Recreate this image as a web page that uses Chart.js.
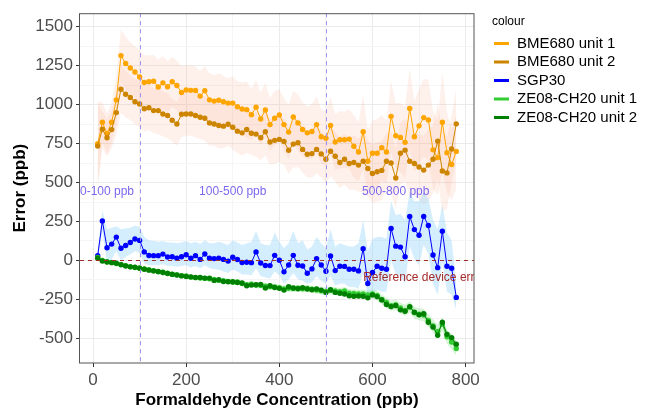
<!DOCTYPE html>
<html>
<head>
<meta charset="utf-8">
<script src="https://cdn.jsdelivr.net/npm/chart.js@4.4.1/dist/chart.umd.min.js"></script>
<style>
  body { margin: 0; background: #fff; }
  #wrap { width: 645px; height: 410px; }
</style>
</head>
<body>
<div id="wrap"><canvas id="myChart" width="645" height="410"></canvas></div>
<script>
// x positions (ppb)
const concentration = [10, 20, 30, 40, 50, 60, 70, 80, 90, 100,
  110, 120, 130, 140, 150, 160, 170, 180, 190, 200,
  210, 220, 230, 240, 250, 260, 270, 280, 290, 300,
  310, 320, 330, 340, 350, 360, 370, 380, 390, 400,
  410, 420, 430, 440, 450, 460, 470, 480, 490, 500,
  510, 520, 530, 540, 550, 560, 570, 580, 590, 600,
  610, 620, 630, 640, 650, 660, 670, 680, 690, 700,
  710, 720, 730, 740, 750, 760, 770, 780];

// error per sensor (ppb)
const bme1 = [749, 887, 815, 887, 1031, 1315, 1264, 1235, 1210, 1178,
  1142, 1147, 1150, 1113, 1140, 1115, 1147, 1123, 1078, 1094,
  1092, 1091, 1055, 1089, 1031, 1023, 1028, 1019, 1010, 1010,
  987, 972, 968, 936, 983, 908, 966, 872, 913, 934,
  872, 824, 921, 883, 841, 819, 828, 872, 794, 785,
  866, 760, 775, 775, 779, 733, 696, 826, 637, 688,
  688, 724, 696, 925, 800, 790, 758, 976, 794, 864,
  917, 902, 710, 660, 887, 692, 616, 700];
const bme2 = [734, 842, 788, 840, 949, 1099, 1067, 1046, 1019, 1005,
  974, 980, 962, 962, 940, 930, 900, 876, 938, 940,
  940, 930, 919, 913, 883, 876, 866, 862, 874, 855,
  830, 819, 841, 817, 811, 788, 826, 760, 771, 777,
  764, 707, 747, 756, 713, 682, 686, 713, 684, 650,
  701, 669, 629, 650, 622, 629, 612, 637, 590, 558,
  569, 578, 637, 626, 529, 688, 708, 637, 622, 600,
  580, 612, 650, 766, 574, 562, 715, 877];
const sgp30 = [30, 254, 82, 105, 150, 78, 96, 115, 138, 129,
  55, 32, 31, 31, 41, 22, 24, 14, 24, 37,
  14, 31, 7, 42, 14, 12, 15, 7, -4, 21,
  6, -13, -11, -14, 55, -16, -32, -33, 33, 1,
  -73, -29, 33, -31, -35, -82, -54, 12, -29, -69,
  29, -65, -37, -38, -56, -56, -67, 75, -148, -77,
  -37, -50, -56, 205, 92, 86, 24, 283, 198, 162,
  283, 224, 35, -46, 188, -37, -50, -237];
const ze1 = [20, 0, -8, -12, -20, -25, -33, -40, -45, -48,
  -55, -60, -65, -72, -75, -82, -90, -92, -97, -100,
  -107, -110, -112, -115, -118, -122, -128, -130, -134, -140,
  -138, -148, -155, -152, -158, -160, -165, -168, -170, -175,
  -182, -178, -180, -178, -182, -180, -185, -190, -195, -198,
  -192, -196, -200, -196, -210, -212, -215, -215, -222, -215,
  -225, -250, -270, -290, -285, -305, -320, -300, -335, -345,
  -350, -385, -420, -455, -410, -490, -523, -565];
const ze2 = [14, -3, -10, -14, -18, -27, -35, -41, -43, -50,
  -56, -62, -67, -71, -77, -84, -88, -94, -99, -103,
  -105, -109, -109, -113, -113, -128, -124, -135, -137, -137,
  -141, -145, -162, -158, -156, -154, -177, -162, -173, -179,
  -190, -169, -177, -181, -175, -183, -188, -183, -190, -205,
  -188, -205, -210, -215, -226, -230, -228, -230, -240, -221,
  -232, -253, -283, -296, -289, -317, -326, -296, -332, -349,
  -342, -396, -427, -480, -396, -474, -495, -537];

// ribbon half widths / bounds
const bme1Err = [270, 130, 130, 130, 160, 170, 170, 165, 165, 175,
  175, 170, 170, 175, 170, 165, 160, 160, 170, 160,
  160, 155, 160, 160, 170, 165, 175, 165, 160, 170,
  165, 170, 180, 165, 175, 170, 175, 170, 175, 165,
  170, 175, 170, 180, 175, 170, 175, 180, 175, 175,
  185, 180, 185, 180, 190, 200, 190, 240, 200, 210,
  220, 210, 200, 230, 210, 220, 230, 260, 230, 240,
  250, 260, 250, 240, 320, 260, 230, 240];
const bme2Err = [270, 120, 120, 120, 140, 150, 150, 145, 145, 150,
  150, 145, 145, 150, 145, 145, 140, 140, 145, 140,
  140, 140, 140, 145, 145, 140, 145, 140, 140, 145,
  140, 145, 150, 140, 145, 145, 150, 145, 150, 145,
  150, 150, 150, 155, 150, 150, 155, 155, 150, 155,
  160, 160, 165, 160, 170, 175, 170, 200, 180, 190,
  190, 190, 180, 200, 190, 200, 200, 220, 200, 210,
  220, 230, 220, 240, 260, 230, 220, 230];
const sgpHigh = [60, 320, 200, 210, 220, 200, 205, 210, 225, 215,
  150, 130, 125, 120, 125, 115, 115, 110, 115, 125,
  110, 120, 105, 130, 110, 110, 120, 110, 100, 130,
  115, 100, 110, 120, 190, 110, 100, 100, 180, 120,
  80, 110, 190, 110, 130, 70, 90, 150, 110, 80,
  200, 90, 110, 100, 90, 90, 110, 260, 60, 140,
  150, 150, 140, 380, 290, 300, 260, 440, 380, 380,
  440, 400, 260, 200, 360, 180, 130, -150];
const sgpLow = [0, 180, -10, 10, 60, 0, 20, 40, 60, 50,
  -20, -30, -30, -30, -25, -35, -35, -40, -35, -30,
  -45, -35, -50, -30, -50, -55, -60, -70, -80, -60,
  -70, -90, -90, -95, -50, -100, -110, -115, -70, -95,
  -150, -120, -80, -120, -130, -150, -140, -100, -130, -150,
  -100, -160, -150, -150, -170, -170, -180, -80, -230, -200,
  -190, -200, -200, 0, -90, -100, -150, 90, 10, -30,
  100, 40, -150, -220, -10, -200, -220, -320];
const ze1Err = [10, 10, 10, 10, 10, 12, 12, 12, 12, 12,
  12, 12, 12, 12, 14, 14, 14, 14, 14, 15,
  15, 15, 15, 15, 16, 16, 16, 17, 17, 18,
  18, 18, 18, 20, 20, 20, 20, 20, 20, 20,
  22, 22, 22, 22, 22, 22, 22, 24, 24, 24,
  24, 24, 24, 26, 26, 26, 28, 28, 28, 28,
  30, 30, 32, 32, 34, 34, 36, 36, 38, 38,
  40, 40, 42, 42, 44, 44, 46, 46];
const ze2Err = [8, 8, 8, 8, 8, 8, 8, 8, 8, 8,
  9, 9, 9, 9, 9, 9, 9, 9, 9, 9,
  10, 10, 10, 10, 10, 10, 10, 10, 10, 10,
  12, 12, 12, 12, 12, 12, 12, 12, 12, 12,
  14, 14, 14, 14, 14, 14, 14, 14, 14, 14,
  16, 16, 16, 16, 16, 16, 16, 16, 16, 16,
  20, 20, 20, 20, 20, 20, 20, 20, 20, 20,
  24, 24, 24, 24, 24, 24, 24, 24];

const seriesNames = ['BME680 unit 1', 'BME680 unit 2', 'SGP30', 'ZE08-CH20 unit 1', 'ZE08-CH20 unit 2'];
const seriesColors = ['#FFA500', '#CD8500', '#0000FF', '#32CD32', '#008000'];
const xTicks = [0, 100, 200, 300, 400, 500, 600, 700, 800];
const yTicks = [-500, -375, -250, -125, 0, 125, 250, 375, 500, 625, 750, 875, 1000, 1125, 1250, 1375, 1500];
const rangeBreaks = [100, 500];
const rangeLabels = ['0-100 ppb', '100-500 ppb', '500-800 ppb'];
const rangeLabelX = [30, 300, 650];
const rangeLabelY = 440;

const FONT = "'Liberation Sans', Arial, sans-serif";
Chart.defaults.font.family = FONT;

function points(values) {
  return concentration.map((x, i) => ({ x: x, y: values[i] }));
}

function band(values, err, sign) {
  return concentration.map((x, i) => ({ x: x, y: values[i] + sign * err[i] }));
}

function ribbon(upper, lower, color, order) {
  return [
    { data: upper, fill: '+1', backgroundColor: color, borderWidth: 0, borderColor: 'transparent',
      pointRadius: 0, order: order },
    { data: lower, fill: false, borderWidth: 0, borderColor: 'transparent',
      pointRadius: 0, order: order }
  ];
}

function line(values, i) {
  return {
    label: seriesNames[i],
    data: points(values),
    borderColor: seriesColors[i],
    backgroundColor: seriesColors[i],
    borderWidth: 1,
    pointRadius: 2.7,
    pointBorderWidth: 0,
    pointBackgroundColor: seriesColors[i],
    fill: false,
    order: 5 - i
  };
}

const peach = 'rgba(250, 160, 130, 0.15)';
const datasets = [].concat(
  ribbon(band(bme1, bme1Err, 1), band(bme1, bme1Err, -1), peach, 20),
  ribbon(band(bme2, bme2Err, 1), band(bme2, bme2Err, -1), peach, 19),
  ribbon(points(sgpHigh), points(sgpLow), 'rgba(135, 206, 250, 0.35)', 18),
  ribbon(band(ze1, ze1Err, 1), band(ze1, ze1Err, -1), 'rgba(50, 205, 50, 0.2)', 17),
  ribbon(band(ze2, ze2Err, 1), band(ze2, ze2Err, -1), 'rgba(0, 128, 0, 0.12)', 16),
  [line(bme1, 0), line(bme2, 1), line(sgp30, 2), line(ze1, 3), line(ze2, 4)]
);

// dashed lines, labels, panel border
const annotations = {
  id: 'annotations',
  afterDatasetsDraw(chart) {
    const { ctx, chartArea: a, scales: { x, y } } = chart;
    ctx.save();
    ctx.beginPath();
    ctx.rect(a.left, a.top, a.right - a.left, a.bottom - a.top);
    ctx.clip();
    ctx.lineWidth = 1;
    ctx.setLineDash([4, 4]);
    ctx.strokeStyle = '#9C8FF0';
    rangeBreaks.forEach(v => {
      const px = Math.round(x.getPixelForValue(v)) + 0.5;
      ctx.beginPath();
      ctx.moveTo(px, a.top);
      ctx.lineTo(px, a.bottom);
      ctx.stroke();
    });
    ctx.strokeStyle = '#A52A2A';
    const py = Math.round(y.getPixelForValue(0)) + 0.5;
    ctx.beginPath();
    ctx.moveTo(a.left, py);
    ctx.lineTo(a.right, py);
    ctx.stroke();
    ctx.setLineDash([]);

    ctx.font = '12px ' + FONT;
    ctx.textBaseline = 'middle';
    ctx.textAlign = 'center';
    ctx.fillStyle = '#7B68EE';
    rangeLabels.forEach((t, i) => {
      ctx.fillText(t, x.getPixelForValue(rangeLabelX[i]), y.getPixelForValue(rangeLabelY));
    });
    ctx.textAlign = 'left';
    ctx.fillStyle = '#A52A2A';
    ctx.fillText('Reference device error', x.getPixelForValue(580), y.getPixelForValue(-111));
    ctx.restore();

    ctx.save();
    ctx.strokeStyle = '#555555';
    ctx.lineWidth = 1;
    ctx.strokeRect(a.left - 0.5, a.top + 0.5, a.right - a.left + 0.5, a.bottom - a.top - 0.5);
    ctx.restore();
  }
};

const legendBox = {
  id: 'legendBox',
  afterDraw(chart) {
    const ctx = chart.ctx;
    ctx.save();
    ctx.fillStyle = '#000';
    ctx.textAlign = 'left';
    ctx.textBaseline = 'middle';
    ctx.font = '12px ' + FONT;
    ctx.fillText('colour', 492, 22);
    ctx.font = '15px ' + FONT;
    seriesNames.forEach((name, i) => {
      const yy = 43.5 + i * 18.5;
      ctx.strokeStyle = seriesColors[i];
      ctx.lineWidth = 3;
      ctx.beginPath();
      ctx.moveTo(494, yy);
      ctx.lineTo(509, yy);
      ctx.stroke();
      ctx.fillText(name, 517, yy);
    });
    ctx.restore();
  }
};

const ctx = document.getElementById('myChart').getContext('2d');
const myChart = new Chart(ctx, {
  type: 'line',
  data: { datasets: datasets },
  plugins: [annotations, legendBox],
  options: {
    responsive: false,
    animation: false,
    devicePixelRatio: 1,
    layout: { padding: { left: 0, right: 171, top: 10, bottom: 0 } },
    plugins: {
      legend: { display: false },
      tooltip: { enabled: false },
      filler: { propagate: false }
    },
    scales: {
      x: {
        type: 'linear',
        min: -28,
        max: 818,
        afterBuildTicks: axis => { axis.ticks = xTicks.map(v => ({ value: v })); },
        afterFit: axis => { axis.height = 47; },
        border: { display: false },
        grid: {
          color: c => (c.tick && c.tick.value % 200 === 0) ? '#EBEBEB' : '#F5F5F5',
          tickColor: c => (c.tick && c.tick.value % 200 === 0) ? '#333333' : 'rgba(0,0,0,0)',
          tickLength: 4
        },
        ticks: {
          autoSkip: false,
          maxRotation: 0,
          padding: 3,
          color: '#4D4D4D',
          font: { size: 17 },
          callback: v => v % 200 === 0 ? String(v) : ''
        },
        title: {
          display: true,
          text: 'Formaldehyde Concentration (ppb)',
          color: '#000',
          font: { size: 17, weight: 'bold' },
          padding: { top: 0, bottom: -1 }
        }
      },
      y: {
        min: -658,
        max: 1587,
        afterBuildTicks: axis => { axis.ticks = yTicks.map(v => ({ value: v })); },
        afterFit: axis => { axis.width = 80; },
        border: { display: false },
        grid: {
          color: c => (c.tick && c.tick.value % 250 === 0) ? '#EBEBEB' : '#F5F5F5',
          tickColor: c => (c.tick && c.tick.value % 250 === 0) ? '#333333' : 'rgba(0,0,0,0)',
          tickLength: 4
        },
        ticks: {
          autoSkip: false,
          padding: 3,
          color: '#4D4D4D',
          font: { size: 17 },
          callback: v => v % 250 === 0 ? String(v) : ''
        },
        title: {
          display: true,
          text: 'Error (ppb)',
          color: '#000',
          font: { size: 17, weight: 'bold' },
          padding: { top: 10, bottom: 0 }
        }
      }
    }
  }
});
</script>
</body>
</html>
